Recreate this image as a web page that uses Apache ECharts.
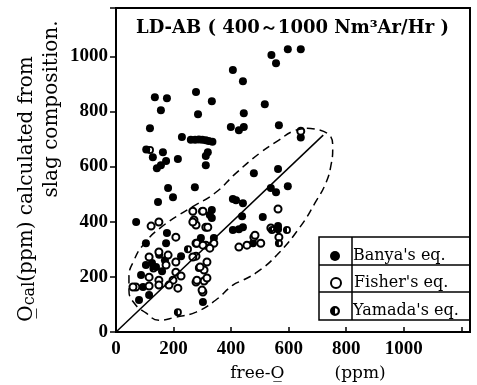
<!DOCTYPE html>
<html>
<head>
<meta charset="utf-8">
<script src="https://cdn.jsdelivr.net/npm/echarts@6/dist/echarts.min.js"></script>
<style>
  html, body { margin: 0; padding: 0; background: #fff; }
  #chart { width: 477px; height: 385px; }
</style>
</head>
<body>
<div id="chart"></div>
<script>
// values (ppm)
const xTicks = [0, 200, 400, 600, 800, 1000];
const yTicks = [0, 200, 400, 600, 800, 1000];

const banya = [
  [540, 1005], [597, 1025], [642, 1025], [556, 975], [406, 950], [441, 909],
  [135, 851], [177, 848], [278, 870], [333, 837], [156, 804], [285, 790],
  [517, 826], [444, 793], [118, 739], [229, 707], [399, 743], [444, 743],
  [427, 732], [566, 750], [260, 697], [275, 697], [288, 698], [300, 697],
  [312, 695], [322, 693], [335, 690], [105, 662], [163, 652], [128, 634],
  [174, 620], [156, 605], [142, 594], [215, 627], [319, 652], [312, 638],
  [312, 605], [181, 522], [198, 489], [146, 471], [274, 525], [406, 482],
  [642, 705], [479, 576], [563, 591], [538, 522], [556, 507], [597, 529],
  [441, 467], [417, 478], [510, 417], [438, 420], [441, 380], [427, 373],
  [563, 384], [563, 373], [70, 399], [177, 359], [295, 341], [340, 341],
  [406, 370], [299, 438], [333, 442], [333, 413], [326, 424], [104, 322],
  [174, 322], [226, 275], [104, 243], [139, 236], [288, 232], [87, 207],
  [94, 163], [80, 116], [115, 134], [302, 109], [476, 322], [150, 280],
  [170, 260], [125, 250], [160, 220]
];

const fisher = [
  [642, 728], [267, 438], [122, 384], [149, 399], [208, 344], [271, 406],
  [278, 388], [312, 380], [563, 446], [538, 377], [566, 344], [479, 344],
  [503, 322], [427, 308], [483, 351], [455, 315], [278, 322], [312, 315],
  [340, 322], [115, 272], [149, 290], [181, 279], [278, 275], [174, 243],
  [208, 254], [306, 225], [115, 199], [149, 188], [208, 217], [226, 203],
  [198, 188], [278, 181], [306, 185], [69, 163], [115, 167], [149, 170],
  [215, 159], [184, 170], [302, 145], [59, 163], [302, 438], [267, 399],
  [319, 380], [281, 322], [302, 315], [326, 304], [267, 272], [316, 254],
  [292, 236], [281, 188], [316, 196], [299, 152]
];

const yamada = [
  [118, 660], [542, 370], [594, 370], [215, 72], [566, 322], [130, 230], [250, 300]
];

// guide lines
const equalLine = [[0, 0], [720, 714]];
const ellipse = [
  [663, 739], [733, 721], [753, 670], [747, 605], [729, 540], [691, 467],
  [639, 380], [559, 279], [490, 217], [441, 188], [406, 170], [347, 116],
  [278, 72], [208, 54], [149, 43], [104, 69], [63, 105], [45, 152],
  [45, 199], [63, 261], [94, 315], [153, 377], [257, 449], [344, 504],
  [417, 576], [500, 649], [566, 696], [615, 728], [663, 739]
];

const serif = '"DejaVu Serif", "Liberation Serif", serif';
const numFont = '"Liberation Serif", serif';
const halfPath = 'path://M0,-10 A10,10 0 1,1 0,10 A10,10 0 1,1 0,-10 Z M0,-5.5 L0,5.5 A5.5,5.5 0 0,0 0,-5.5 Z';

const chart = echarts.init(document.getElementById('chart'));

const legendBase = {
  orient: 'vertical',
  left: 325,
  itemWidth: 26,
  itemHeight: 10,
  selectedMode: false,
  textStyle: { fontFamily: serif, fontSize: 16, color: '#000' }
};

chart.setOption({
  animation: false,
  backgroundColor: '#fff',
  grid: {
    left: 116, top: 8, right: 7, bottom: 53,
    outerBoundsMode: 'none',
    containLabel: false,
    show: true, borderColor: '#000', borderWidth: 2, backgroundColor: 'transparent'
  },
  title: {
    text: 'LD-AB ( 400～1000 Nm³Ar/Hr )',
    left: 131, top: 14,
    textStyle: { fontFamily: serif, fontSize: 18, fontWeight: 'bold', color: '#000' }
  },
  xAxis: {
    type: 'value', min: 0, max: 1230, interval: 200,
    splitLine: { show: false },
    axisLine: { lineStyle: { color: '#000', width: 2 } },
    axisTick: { inside: true, length: 5, lineStyle: { color: '#000', width: 1.5 } },
    axisLabel: {
      margin: 8, color: '#000', fontFamily: numFont, fontSize: 19, fontWeight: 'bold',
      formatter: v => xTicks.includes(v) ? String(v) : ''
    },
    name: '{n|free-O̲}{g|}{n|(ppm)}',
    nameLocation: 'middle',
    nameGap: 33,
    nameTextStyle: {
      padding: [0, 0, 0, 30],
      rich: {
        n: { fontFamily: serif, fontSize: 17, color: '#000' },
        g: { width: 50 }
      }
    }
  },
  yAxis: {
    type: 'value', min: 0, max: 1175, interval: 200,
    splitLine: { show: false },
    axisLine: { lineStyle: { color: '#000', width: 2 } },
    axisTick: { inside: false, length: 6, lineStyle: { color: '#000', width: 1.5 } },
    axisLabel: {
      margin: 8, color: '#000', fontFamily: numFont, fontSize: 19, fontWeight: 'bold',
      formatter: v => yTicks.includes(v) ? String(v) : ''
    },
    name: '{n|O̲}{s|cal}{n|(ppm) calculated from}',
    nameLocation: 'middle',
    nameRotate: 90,
    nameGap: 78,
    nameTextStyle: {
      padding: [0, 38, 0, 0],
      rich: {
        n: { fontFamily: serif, fontSize: 20, color: '#000' },
        s: { fontFamily: serif, fontSize: 16, color: '#000', padding: [6, 0, 0, 0] }
      }
    }
  },
  graphic: [
    {
      type: 'text', x: 52, y: 109, rotation: Math.PI / 2,
      style: {
        text: 'slag composition.', fontFamily: serif, fontSize: 20, fill: '#000',
        align: 'center', verticalAlign: 'middle'
      }
    },
    { type: 'rect', shape: { x: 319, y: 237, width: 151, height: 83 },
      style: { fill: 'none', stroke: '#000', lineWidth: 1.5 } },
    { type: 'line', shape: { x1: 319, y1: 265, x2: 470, y2: 265 }, style: { stroke: '#000', lineWidth: 1.5 } },
    { type: 'line', shape: { x1: 319, y1: 292, x2: 470, y2: 292 }, style: { stroke: '#000', lineWidth: 1.5 } },
    { type: 'line', shape: { x1: 352, y1: 237, x2: 352, y2: 320 }, style: { stroke: '#000', lineWidth: 1.5 } }
  ],
  legend: [
    Object.assign({}, legendBase, { top: 243, data: ["Banya's eq."] }),
    Object.assign({}, legendBase, { top: 270, data: ["Fisher's eq."] }),
    Object.assign({}, legendBase, { top: 298, data: ["Yamada's eq."] })
  ],
  series: [
    {
      type: 'line', data: ellipse, smooth: 0.5, symbol: 'none', silent: true,
      lineStyle: { color: '#000', width: 1.5, type: [8, 5] }
    },
    {
      type: 'line', data: equalLine, symbol: 'none', silent: true,
      lineStyle: { color: '#000', width: 1.5 }
    },
    {
      name: "Banya's eq.", type: 'scatter', data: banya, symbol: 'circle', symbolSize: 8,
      itemStyle: { color: '#000', opacity: 1 }
    },
    {
      name: "Fisher's eq.", type: 'scatter', data: fisher, symbol: 'circle', symbolSize: 7,
      itemStyle: { color: '#fff', borderColor: '#000', borderWidth: 2, opacity: 1 }
    },
    {
      name: "Yamada's eq.", type: 'scatter', data: yamada, symbol: halfPath, symbolSize: 8,
      itemStyle: { color: '#000', opacity: 1 }
    }
  ]
});
</script>
</body>
</html>
